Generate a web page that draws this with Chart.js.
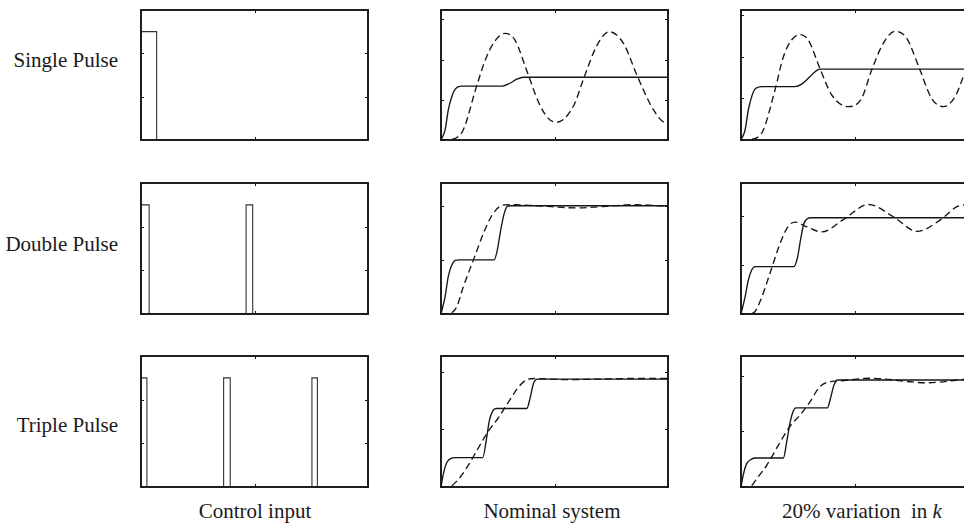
<!DOCTYPE html>
<html>
<head>
<meta charset="utf-8">
<script src="https://cdn.jsdelivr.net/npm/chart.js@4.4.1/dist/chart.umd.min.js"></script>
<style>
  html, body { margin: 0; padding: 0; background: #fff; }
  body { width: 964px; height: 526px; overflow: hidden; position: relative; }
  .panel { position: absolute; }
  .label {
    position: absolute;
    font-family: "Liberation Serif", "Times New Roman", serif;
    font-size: 21px;
    line-height: 1;
    color: #1a1a1a;
    white-space: pre;
  }
  .row-label { left: 0; width: 118px; text-align: right; }
  .col-label { width: 240px; text-align: center; }
</style>
</head>
<body>
<div class="label row-label" style="top:50px">Single Pulse</div>
<div class="label row-label" style="top:234px">Double Pulse</div>
<div class="label row-label" style="top:415px">Triple Pulse</div>
<div class="label col-label" style="left:135px;top:501px">Control input</div>
<div class="label col-label" style="left:432px;top:501px">Nominal system</div>
<div class="label col-label" style="left:742px;top:501px">20% variation  in <i>k</i></div>

<script>
// time axis (same for every panel)
const timeTicks = [0, 5, 10];

// control input pulses
const singlePulseT = [0, 0, 0.69, 0.69, 10];
const singlePulseU = [0, 1, 1, 0, 0];
const doublePulseT = [0, 0, 0.36, 0.36, 4.63, 4.63, 4.92, 4.92, 10];
const doublePulseU = [0, 1, 1, 0, 0, 1, 1, 0, 0];
const triplePulseT = [0, 0, 0.26, 0.26, 3.64, 3.64, 3.93, 3.93, 7.53, 7.53, 7.77, 7.77, 10];
const triplePulseU = [0, 1, 1, 0, 0, 1, 1, 0, 0, 1, 1, 0, 0];
const pulseTicks = [0, 0.4, 0.8, 1.2];

// nominal system, single pulse
const nomSingleSolidT = [0, 0.18, 0.32, 0.47, 0.62, 0.91, 2.7, 3.04, 3.34, 3.63, 10];
const nomSingleSolidY = [0, 0.25, 0.74, 1.07, 1.26, 1.34, 1.34, 1.41, 1.51, 1.56, 1.56];
const nomSingleDashT = [0, 0.5, 0.7, 0.98, 1.57, 2.01, 2.46, 2.82, 3.26, 3.78, 4.29, 4.7, 5.1, 5.84, 6.28, 6.87, 7.41, 8.04, 8.63, 9.37, 9.88, 10];
const nomSingleDashY = [0, 0.02, 0.06, 0.25, 1.34, 2.07, 2.52, 2.65, 2.48, 1.72, 0.95, 0.55, 0.44, 0.85, 1.52, 2.35, 2.69, 2.40, 1.61, 0.74, 0.44, 0.46];

// 20% variation, single pulse
const varSingleSolidT = [0, 0.18, 0.32, 0.47, 0.61, 0.91, 2.37, 2.66, 2.95, 3.25, 3.46, 10];
const varSingleSolidY = [0, 0.24, 0.72, 1.04, 1.22, 1.28, 1.28, 1.34, 1.48, 1.64, 1.70, 1.70];
const varSingleDashT = [0, 0.5, 0.69, 0.98, 1.49, 1.86, 2.22, 2.59, 2.95, 3.46, 3.98, 4.71, 5.29, 5.73, 6.24, 6.75, 7.27, 7.85, 8.36, 8.87, 9.39, 9.75, 10];
const varSingleDashY = [0, 0.02, 0.05, 0.24, 1.20, 2.0, 2.40, 2.53, 2.40, 1.72, 1.08, 0.80, 1.0, 1.68, 2.32, 2.61, 2.44, 1.68, 1.0, 0.80, 1.04, 1.52, 1.88];

// nominal system, double pulse
const nomDoubleSolidT = [0, 0.18, 0.32, 0.47, 0.62, 0.8, 2.34, 2.48, 2.63, 2.78, 2.92, 3.07, 10];
const nomDoubleSolidY = [0, 0.32, 0.69, 0.90, 0.99, 1.0, 1.0, 1.18, 1.55, 1.85, 1.99, 2.0, 2.0];
const nomDoubleDashT = [0, 0.4, 0.69, 0.98, 1.43, 1.87, 2.24, 2.60, 2.97, 4.22, 5.99, 7.31, 8.48, 10];
const nomDoubleDashY = [0, 0.01, 0.13, 0.50, 1.0, 1.49, 1.82, 1.99, 2.02, 2.0, 1.96, 1.99, 2.02, 1.99];

// 20% variation, double pulse
const varDoubleSolidT = [0, 0.18, 0.32, 0.47, 0.61, 0.8, 2.32, 2.47, 2.62, 2.76, 2.91, 3.06, 10];
const varDoubleSolidY = [0, 0.35, 0.69, 0.90, 0.97, 0.97, 0.97, 1.14, 1.54, 1.85, 1.95, 1.97, 1.97];
const varDoubleDashT = [0, 0.54, 0.83, 1.27, 1.71, 2.08, 2.37, 2.81, 3.54, 4.49, 5.59, 6.68, 7.73, 8.73, 9.49, 10];
const varDoubleDashY = [0, 0.02, 0.25, 0.83, 1.44, 1.80, 1.88, 1.80, 1.68, 1.93, 2.24, 1.99, 1.69, 1.92, 2.20, 2.24];

// nominal system, triple pulse
const nomTripleSolidT = [0, 0.1, 0.25, 0.47, 0.6, 1.84, 1.99, 2.13, 2.28, 2.43, 3.78, 3.93, 4.07, 4.25, 10];
const nomTripleSolidY = [0, 0.22, 0.42, 0.50, 0.51, 0.51, 0.80, 1.15, 1.32, 1.36, 1.36, 1.55, 1.79, 1.87, 1.87];
const nomTripleDashT = [0, 0.4, 0.69, 1.13, 1.65, 2.09, 2.53, 2.97, 3.41, 3.78, 4.14, 5.5, 7.0, 8.5, 10];
const nomTripleDashY = [0, 0.01, 0.10, 0.33, 0.68, 0.97, 1.20, 1.47, 1.73, 1.86, 1.88, 1.86, 1.87, 1.88, 1.88];

// 20% variation, triple pulse
const varTripleSolidT = [0, 0.1, 0.25, 0.47, 0.6, 1.86, 2.0, 2.15, 2.28, 2.41, 3.79, 3.93, 4.07, 4.22, 10];
const varTripleSolidY = [0, 0.22, 0.42, 0.50, 0.52, 0.52, 0.80, 1.15, 1.35, 1.42, 1.42, 1.60, 1.82, 1.92, 1.92];
const varTripleDashT = [0, 0.4, 0.69, 1.13, 1.64, 2.15, 2.59, 3.03, 3.46, 3.90, 4.2, 5.66, 8.14, 9.75, 10];
const varTripleDashY = [0, 0.01, 0.15, 0.39, 0.75, 1.09, 1.29, 1.53, 1.80, 1.89, 1.90, 1.95, 1.87, 1.93, 1.94];

const responseTicks = [0, 1, 2, 3];

const INK = "#151515";
const PAD = 3;

// box with small inward ticks on all four sides (MATLAB style)
const frameTicks = {
  id: "frameTicks",
  afterDatasetsDraw(chart) {
    const { ctx, chartArea: a, scales } = chart;
    ctx.save();
    ctx.strokeStyle = INK;
    ctx.lineWidth = 1;
    ctx.beginPath();
    scales.x.ticks.forEach(({ value }) => {
      const px = Math.round(scales.x.getPixelForValue(value)) + 0.5;
      ctx.moveTo(px, a.top); ctx.lineTo(px, a.top + 3);
      ctx.moveTo(px, a.bottom); ctx.lineTo(px, a.bottom - 3);
    });
    scales.y.ticks.forEach(({ value }) => {
      const py = Math.round(scales.y.getPixelForValue(value)) + 0.5;
      ctx.moveTo(a.left, py); ctx.lineTo(a.left + 3, py);
      ctx.moveTo(a.right, py); ctx.lineTo(a.right - 3, py);
    });
    ctx.stroke();
    ctx.lineWidth = 1.9;
    ctx.strokeRect(a.left, a.top, a.right - a.left, a.bottom - a.top);
    ctx.restore();
  }
};

function toPoints(t, y) {
  return t.map((x, i) => ({ x, y: y[i] }));
}

function pulseSet(t, u) {
  return {
    data: toPoints(t, u),
    borderColor: "#333",
    borderWidth: 1.1,
    pointRadius: 0,
    tension: 0
  };
}

function curveSet(t, y, dashed) {
  return {
    data: toPoints(t, y),
    borderColor: INK,
    borderWidth: 1.35,
    borderDash: dashed ? [7, 4] : [],
    pointRadius: 0,
    cubicInterpolationMode: "monotone"
  };
}

function makePanel({ left, top, width, height, yMax, yTicks, datasets }) {
  const box = document.createElement("div");
  box.className = "panel";
  box.style.left = (left - PAD) + "px";
  box.style.top = (top - PAD) + "px";
  const canvas = document.createElement("canvas");
  canvas.width = width + 2 * PAD;
  canvas.height = height + 2 * PAD;
  box.appendChild(canvas);
  document.body.appendChild(box);

  const ticksFrom = list => scale => {
    scale.ticks = list.filter(v => v >= scale.min && v <= scale.max).map(value => ({ value }));
  };

  return new Chart(canvas.getContext("2d"), {
    type: "line",
    data: { datasets },
    options: {
      responsive: false,
      animation: false,
      devicePixelRatio: 1,
      events: [],
      layout: { padding: PAD },
      plugins: { legend: { display: false }, tooltip: { enabled: false } },
      scales: {
        x: { type: "linear", display: false, min: 0, max: 10, afterBuildTicks: ticksFrom(timeTicks) },
        y: { type: "linear", display: false, min: 0, max: yMax, afterBuildTicks: ticksFrom(yTicks) }
      }
    },
    plugins: [frameTicks]
  });
}

const colLeft = [141, 441, 741];
const colWidth = [227, 227, 228];
const rowTop = [10, 183, 356];
const rowHeight = [130, 131, 131];

const panels = [
  // row 1: single pulse
  { col: 0, row: 0, yMax: 1.2, yTicks: pulseTicks, datasets: [pulseSet(singlePulseT, singlePulseU)] },
  { col: 1, row: 0, yMax: 3.23, yTicks: responseTicks, datasets: [
    curveSet(nomSingleSolidT, nomSingleSolidY, false), curveSet(nomSingleDashT, nomSingleDashY, true)] },
  { col: 2, row: 0, yMax: 3.12, yTicks: responseTicks, datasets: [
    curveSet(varSingleSolidT, varSingleSolidY, false), curveSet(varSingleDashT, varSingleDashY, true)] },
  // row 2: double pulse
  { col: 0, row: 1, yMax: 1.2, yTicks: pulseTicks, datasets: [pulseSet(doublePulseT, doublePulseU)] },
  { col: 1, row: 1, yMax: 2.42, yTicks: responseTicks, datasets: [
    curveSet(nomDoubleSolidT, nomDoubleSolidY, false), curveSet(nomDoubleDashT, nomDoubleDashY, true)] },
  { col: 2, row: 1, yMax: 2.68, yTicks: responseTicks, datasets: [
    curveSet(varDoubleSolidT, varDoubleSolidY, false), curveSet(varDoubleDashT, varDoubleDashY, true)] },
  // row 3: triple pulse
  { col: 0, row: 2, yMax: 1.2, yTicks: pulseTicks, datasets: [pulseSet(triplePulseT, triplePulseU)] },
  { col: 1, row: 2, yMax: 2.27, yTicks: responseTicks, datasets: [
    curveSet(nomTripleSolidT, nomTripleSolidY, false), curveSet(nomTripleDashT, nomTripleDashY, true)] },
  { col: 2, row: 2, yMax: 2.35, yTicks: responseTicks, datasets: [
    curveSet(varTripleSolidT, varTripleSolidY, false), curveSet(varTripleDashT, varTripleDashY, true)] }
];

panels.forEach(p => makePanel({
  left: colLeft[p.col],
  top: rowTop[p.row],
  width: colWidth[p.col],
  height: rowHeight[p.row],
  yMax: p.yMax,
  yTicks: p.yTicks,
  datasets: p.datasets
}));
</script>
</body>
</html>
